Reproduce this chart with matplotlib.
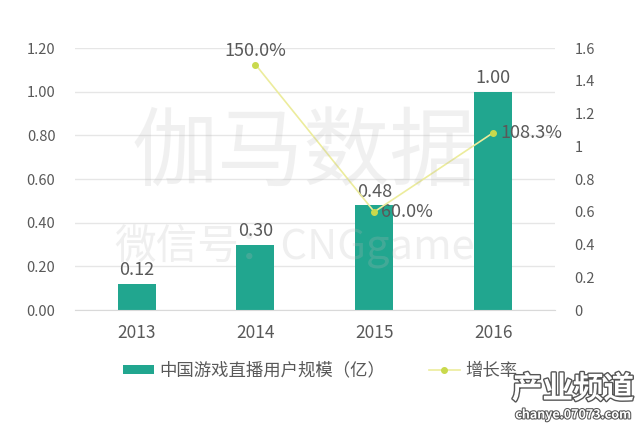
import matplotlib.pyplot as plt
import matplotlib.patheffects as pe
import numpy as np

plt.rcParams["font.family"] = ["Noto Sans CJK SC", "DejaVu Sans"]

years = ["2013", "2014", "2015", "2016"]
users = [0.12, 0.30, 0.48, 1.00]
growth_years = ["2014", "2015", "2016"]
growth = [1.50, 0.60, 1.083]
growth_labels = ["150.0%", "60.0%", "108.3%"]

BAR_COLOR = "#21a68f"
LINE_COLOR = "#ecec9c"
MARK_COLOR = "#c9d94c"
TEXT_COLOR = "#595959"

fig = plt.figure(figsize=(6.4, 4.3), dpi=100)
ax = fig.add_axes([0.117, 0.279, 0.75, 0.609])
ax2 = ax.twinx()

x = np.arange(len(years))
ax.bar(x, users, width=0.32, color=BAR_COLOR, zorder=2,
       label="中国游戏直播用户规模（亿）")
for xi, v in zip(x, users):
    ax.text(xi, v + 0.02, f"{v:.2f}", ha="center", va="bottom",
            fontsize=13, color=TEXT_COLOR, zorder=5)

ax.set_xlim(-0.52, 3.52)
ax.set_ylim(0, 1.2)
ticks = np.arange(0, 1.21, 0.2)
ax.set_yticks(ticks)
ax.set_yticklabels([f"{t:.2f}" for t in ticks])
ax.set_xticks(x)
ax.set_xticklabels(years)
ax.grid(axis="y", color="#e6e6e6", linewidth=1, zorder=0)
ax.set_axisbelow(True)

gx = [years.index(y) for y in growth_years]
ax2.plot(gx, growth, color=LINE_COLOR, linewidth=1.2, marker="o",
         markersize=4, markerfacecolor=MARK_COLOR, markeredgecolor=MARK_COLOR,
         zorder=4, label="增长率")
ax2.set_ylim(0, 1.6)
ax2.set_yticks(np.arange(0, 1.61, 0.2))
ax2.set_yticklabels(["0", "0.2", "0.4", "0.6", "0.8", "1", "1.2", "1.4", "1.6"])

ax2.text(gx[0], growth[0] + 0.03, growth_labels[0], ha="center", va="bottom",
         fontsize=13, color=TEXT_COLOR)
ax2.text(gx[1] + 0.06, growth[1], growth_labels[1], ha="left", va="center",
         fontsize=13, color=TEXT_COLOR)
ax2.text(gx[2] + 0.06, growth[2], growth_labels[2], ha="left", va="center",
         fontsize=13, color=TEXT_COLOR)

for a in (ax, ax2):
    for s in a.spines.values():
        s.set_visible(False)
    a.tick_params(length=0, labelsize=10.5, colors=TEXT_COLOR)
ax.spines["bottom"].set_visible(True)
ax.spines["bottom"].set_color("#d9d9d9")
ax.tick_params(axis="x", pad=10, labelsize=12.5)
ax.tick_params(axis="y", pad=14)
ax2.tick_params(axis="y", pad=14)

# watermarks
fig.text(0.475, 0.64, "伽马数据", ha="center", va="center", fontsize=62,
         color="#b8b8b8", alpha=0.2)
fig.text(0.46, 0.425, "微信号：CNGgame", ha="center", va="center", fontsize=30,
         color="#b8b8b8", alpha=0.22)
fig.text(0.895, 0.095, "产业频道", ha="center", va="center", fontsize=22,
         color="#ffffff", fontweight="bold",
         path_effects=[pe.withStroke(linewidth=2, foreground="#555555")])
fig.text(0.895, 0.035, "chanye.07073.com", ha="center", va="center",
         fontsize=9, color="#ffffff", fontweight="bold",
         path_effects=[pe.withStroke(linewidth=1.5, foreground="#555555")])

h1, l1 = ax.get_legend_handles_labels()
h2, l2 = ax2.get_legend_handles_labels()
fig.legend(h1 + h2, l1 + l2, loc="center", bbox_to_anchor=(0.5, 0.138),
           ncol=2, frameon=False, fontsize=12.5, labelcolor=TEXT_COLOR,
           handlelength=1.8, handleheight=0.5, handletextpad=0.3,
           columnspacing=2.5)

fig.savefig("out.png", dpi=100)
